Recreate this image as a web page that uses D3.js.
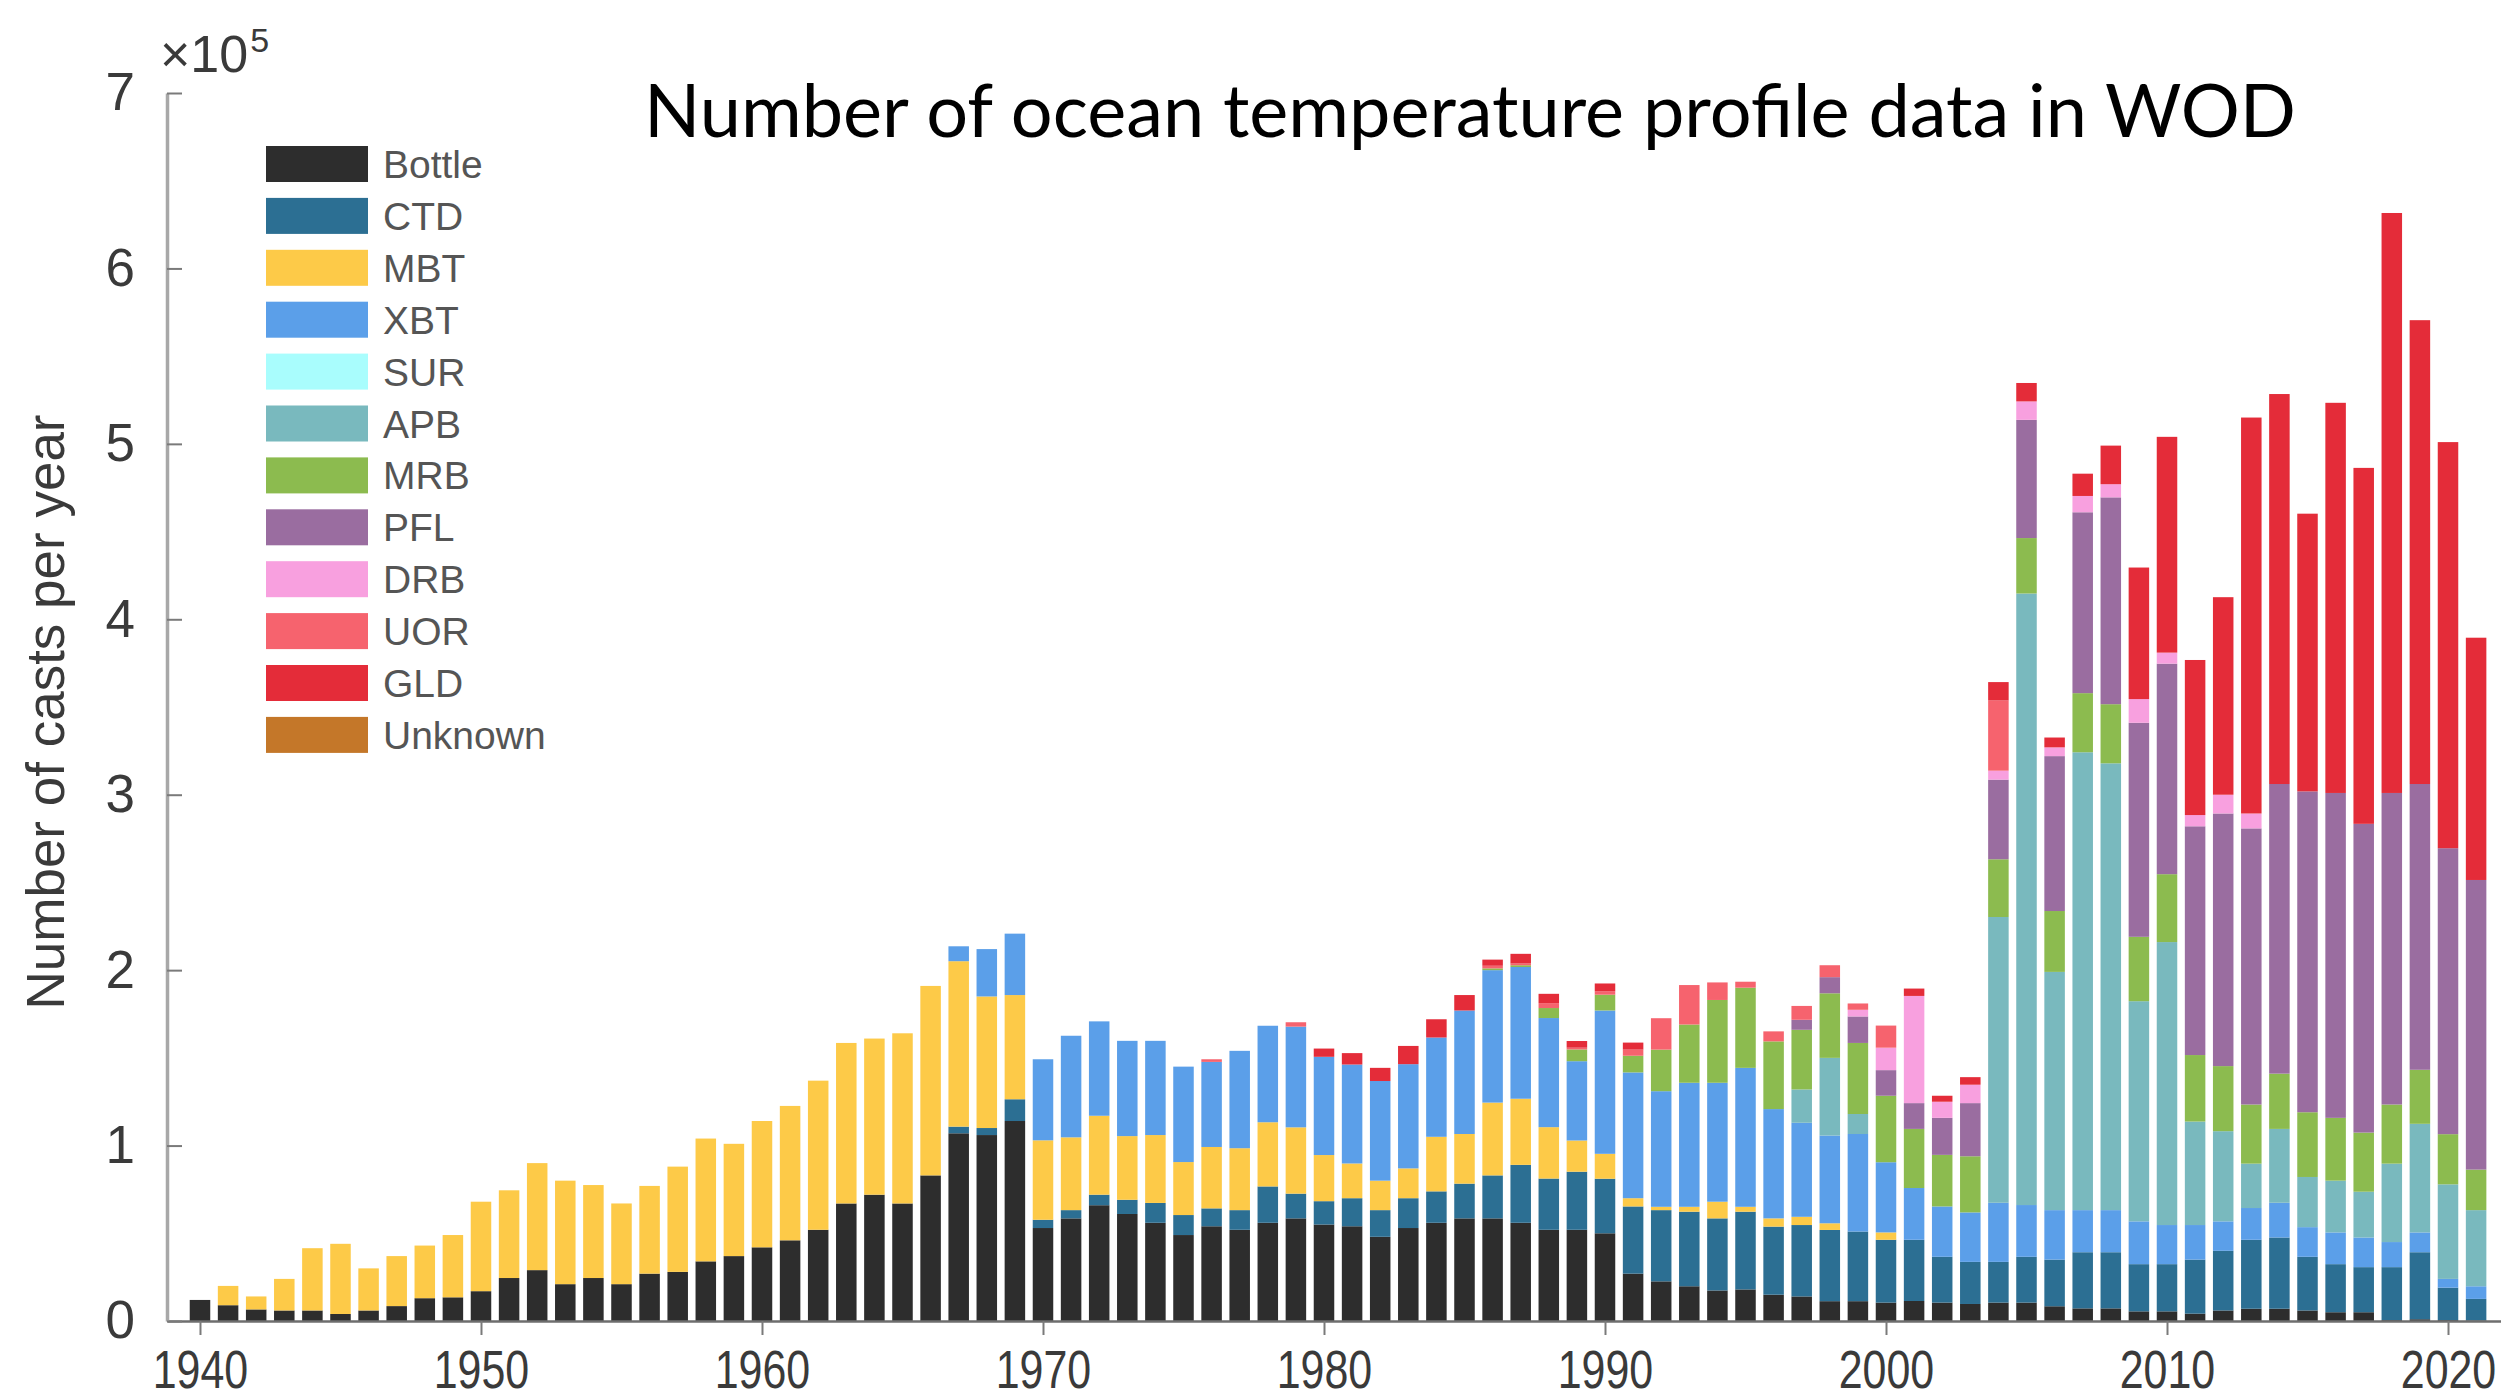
<!DOCTYPE html>
<html>
<head>
<meta charset="utf-8">
<script src="https://cdn.jsdelivr.net/npm/d3@7"></script>
<style>
  html, body { margin: 0; background: #fff; }
  svg { display: block; }
</style>
</head>
<body>
<svg id="chart" width="2501" height="1399"></svg>
<script>
// Years on the x axis, one stacked bar per year
const years = d3.range(1940, 2022);

// Casts per year by instrument type, in thousands (one row per decade)
const bottle = [
  12, 9, 6.6, 6, 6, 4, 6, 8.5, 13, 13.5,
  17, 24.5, 29, 21, 24.5, 21, 27, 28, 34, 37,
  42, 46, 52, 67, 72, 67, 83, 107, 106, 114,
  53, 58.5, 66, 61, 56, 49, 54, 52, 56, 58.5,
  55, 54, 48, 53, 56, 58.5, 58.5, 56, 52, 52,
  50, 27, 22.6, 19.8, 17.4, 18, 15, 14, 11.3, 11.3,
  10.5, 11.4, 10.5, 9.7, 10.5, 10.5, 8.4, 7.2, 7.2, 5.5,
  5.5, 4.2, 6, 7, 7, 6, 5, 5, 0.5, 1,
  0.5, 0.3
];
const ctd = [
  0, 0, 0, 0, 0, 0, 0, 0, 0, 0,
  0, 0, 0, 0, 0, 0, 0, 0, 0, 0,
  0, 0, 0, 0, 0, 0, 0, 3.8, 4, 12.4,
  4.7, 4.7, 6, 8.1, 11.3, 11.4, 10.2, 11.2, 20.7, 14.1,
  13.3, 16, 15.2, 17, 17.9, 19.8, 24.5, 33, 29.2, 33.1,
  31.1, 38.3, 40.6, 42.5, 41.1, 44.3, 38.8, 40.7, 40.6, 39.7,
  35.8, 34.9, 26.1, 24, 23.2, 26.1, 26.6, 32, 32, 26.9,
  26.9, 30.8, 34, 39.3, 40.6, 30.6, 27.4, 25.7, 30.2, 38.2,
  18.5, 12.3
];
const mbt = [
  0, 11, 7.4, 18, 35.5, 40, 24, 28.5, 30, 35.5,
  51, 50, 61, 59, 53, 46, 50, 60, 70, 64,
  72, 76.6, 85, 91.5, 89, 97, 108, 94.3, 75, 59.4,
  45.3, 41.5, 45, 36.3, 38.7, 30.2, 35, 35.3, 36.6, 37.8,
  26.3, 19.8, 16.8, 17, 31.1, 28.3, 41.5, 37.7, 29.3, 17.8,
  14.2, 4.7, 1.9, 2.8, 9.5, 2.8, 4.7, 4.7, 3.8, 0,
  4.2, 0, 0, 0, 0, 0, 0, 0, 0, 0,
  0, 0, 0, 0, 0, 0, 0, 0, 0, 0,
  0, 0
];
const xbt = [
  0, 0, 0, 0, 0, 0, 0, 0, 0, 0,
  0, 0, 0, 0, 0, 0, 0, 0, 0, 0,
  0, 0, 0, 0, 0, 0, 0, 8.5, 27, 35,
  46.2, 57.9, 53.8, 54.3, 53.7, 54.4, 48.5, 55.5, 55, 57.4,
  56, 56.4, 56.8, 59.4, 56.6, 70.4, 75.5, 75.1, 62.2, 45.2,
  81.7, 71.7, 65.9, 70.7, 67.8, 79.2, 62.3, 53.6, 50, 55.6,
  40, 29.5, 28.7, 28.2, 33.7, 29.5, 28.2, 24, 24, 24.4,
  22.3, 19.7, 16.8, 18.1, 19.8, 16.9, 18.1, 16.9, 14.3, 11.3,
  5, 7.2
];
const sur = [
  0, 0, 0, 0, 0, 0, 0, 0, 0, 0,
  0, 0, 0, 0, 0, 0, 0, 0, 0, 0,
  0, 0, 0, 0, 0, 0, 0, 0, 0, 0,
  0, 0, 0, 0, 0, 0, 0, 0, 0, 0,
  0, 0, 0, 0, 0, 0, 0, 0, 0, 0,
  0, 0, 0, 0, 0, 0, 0, 0, 0, 0,
  0, 0, 0, 0, 0, 0, 0, 0, 0, 0,
  0, 0, 0, 0, 0, 0, 0, 0, 0, 0,
  0, 0
];
const apb = [
  0, 0, 0, 0, 0, 0, 0, 0, 0, 0,
  0, 0, 0, 0, 0, 0, 0, 0, 0, 0,
  0, 0, 0, 0, 0, 0, 0, 0, 0, 0,
  0, 0, 0, 0, 0, 0, 0, 0, 0, 0,
  0, 0, 0, 0, 0, 0, 0, 0, 0, 0,
  0, 0, 0, 0, 0, 0, 0, 19, 44.3, 11.4,
  0, 0, 0, 0, 162.9, 348.6, 135.8, 261, 254.7, 125.5,
  161.3, 59, 51.4, 25.3, 42.1, 28.6, 29.5, 26.1, 44.7, 61.9,
  53.9, 43.4
];
const mrb = [
  0, 0, 0, 0, 0, 0, 0, 0, 0, 0,
  0, 0, 0, 0, 0, 0, 0, 0, 0, 0,
  0, 0, 0, 0, 0, 0, 0, 0, 0, 0,
  0, 0, 0, 0, 0, 0, 0, 0, 0, 0,
  0, 0, 0, 0, 0, 0, 1, 1, 5.7, 6.7,
  9, 9.5, 23.7, 33.2, 47.2, 45.7, 38.6, 34, 36.8, 40.5,
  37.9, 33.7, 29.4, 32, 32.9, 31.6, 34.7, 33.7, 33.7, 36.7,
  38.7, 37.9, 37.1, 33.7, 31.5, 36.9, 35.8, 33.7, 33.7, 30.8,
  28.6, 23.1
];
const pfl = [
  0, 0, 0, 0, 0, 0, 0, 0, 0, 0,
  0, 0, 0, 0, 0, 0, 0, 0, 0, 0,
  0, 0, 0, 0, 0, 0, 0, 0, 0, 0,
  0, 0, 0, 0, 0, 0, 0, 0, 0, 0,
  0, 0, 0, 0, 0, 0, 0, 0, 0, 0,
  0, 0, 0, 0, 0, 0, 0, 5.7, 9.2, 15.1,
  14.6, 14.7, 21.1, 30.3, 45.4, 67.4, 88.3, 103.1, 117.9, 122,
  120, 130.4, 144, 157.4, 165.1, 182.9, 185.2, 176, 177.6, 162.9,
  163, 165.1
];
const drb = [
  0, 0, 0, 0, 0, 0, 0, 0, 0, 0,
  0, 0, 0, 0, 0, 0, 0, 0, 0, 0,
  0, 0, 0, 0, 0, 0, 0, 0, 0, 0,
  0, 0, 0, 0, 0, 0, 0, 0, 0, 0,
  0, 0, 0, 0, 0, 0, 0, 0, 0, 0,
  0, 0, 0, 0, 0, 0, 0, 0, 0, 3.8,
  12.8, 61.1, 9.2, 10.5, 5.1, 10.5, 5, 9.3, 7.5, 13.5,
  6.3, 6.4, 10.7, 8.5, 0, 0, 0, 0, 0, 0,
  0, 0
];
const uor = [
  0, 0, 0, 0, 0, 0, 0, 0, 0, 0,
  0, 0, 0, 0, 0, 0, 0, 0, 0, 0,
  0, 0, 0, 0, 0, 0, 0, 0, 0, 0,
  0, 0, 0, 0, 0, 0, 1.5, 0, 0, 2.5,
  0, 0, 0, 0, 0, 0, 1.5, 1, 2.8, 1,
  2, 3.5, 17.9, 22.5, 10, 3.4, 5.7, 7.9, 6.8, 3.6,
  12.6, 0, 0, 0, 40, 0, 0, 0, 0, 0,
  0, 0, 0, 0, 0, 0, 0, 0, 0, 0,
  0, 0
];
const gld = [
  0, 0, 0, 0, 0, 0, 0, 0, 0, 0,
  0, 0, 0, 0, 0, 0, 0, 0, 0, 0,
  0, 0, 0, 0, 0, 0, 0, 0, 0, 0,
  0, 0, 0, 0, 0, 0, 0, 0, 0, 0,
  4.7, 6.5, 7.5, 10.4, 10.4, 8.8, 3.5, 5.5, 5.3, 3.8,
  4.4, 4, 0, 0, 0, 0, 0, 0, 0, 0,
  0, 4.2, 3.4, 4.3, 10.5, 10.5, 5.6, 12.7, 22, 75,
  123, 88.4, 112.6, 225.7, 222.3, 158.3, 222.4, 202.9, 330.6, 264.4,
  231.5, 138.1
];
const unknown = [
  0, 0, 0, 0, 0, 0, 0, 0, 0, 0,
  0, 0, 0, 0, 0, 0, 0, 0, 0, 0,
  0, 0, 0, 0, 0, 0, 0, 0, 0, 0,
  0, 0, 0, 0, 0, 0, 0, 0, 0, 0,
  0, 0, 0, 0, 0, 0, 0, 0, 0, 0,
  0, 0, 0, 0, 0, 0, 0, 0, 0, 0,
  0, 0, 0, 0, 0, 0, 0, 0, 0, 0,
  0, 0, 0, 0, 0, 0, 0, 0, 0, 0,
  0, 0
];

// Series names (stack order, bottom to top) and their colours
const seriesNames = ["Bottle", "CTD", "MBT", "XBT", "SUR", "APB", "MRB", "PFL", "DRB", "UOR", "GLD", "Unknown"];
const seriesValues = [bottle, ctd, mbt, xbt, sur, apb, mrb, pfl, drb, uor, gld, unknown];
const seriesColors = ["#2d2d2d", "#2c6f93", "#fdca48", "#5b9fe9", "#a9fdfd", "#79b9be",
                      "#8cbb4f", "#9a6da0", "#f8a0df", "#f6636e", "#e42c39", "#c47729"];

// Tick positions and labels
const xTickYears = [1940, 1950, 1960, 1970, 1980, 1990, 2000, 2010, 2020];
const yTickValues = [0, 100000, 200000, 300000, 400000, 500000, 600000, 700000];
const yTickLabels = ["0", "1", "2", "3", "4", "5", "6", "7"];

const W = 2501, H = 1399;
const svg = d3.select("#chart");
svg.append("rect").attr("width", W).attr("height", H).attr("fill", "#fff");

// Build the table the stack layout needs (counts in casts)
const table = years.map((yr, i) => {
  const row = { year: yr };
  seriesNames.forEach((name, k) => { row[name] = seriesValues[k][i] * 1000; });
  return row;
});

const x = d3.scaleLinear().domain([1938.826, 2021.886]).range([167, 2501]);
const y = d3.scaleLinear().domain([0, 700000]).range([1321, 93]);
const barW = 0.73 * (x(1941) - x(1940));

const stacked = d3.stack().keys(seriesNames)(table);

// Stacked bars
svg.append("g")
  .selectAll("g")
  .data(stacked)
  .join("g")
  .attr("fill", (d, i) => seriesColors[i])
  .selectAll("rect")
  .data(d => d.filter(s => s[1] - s[0] > 0))
  .join("rect")
  .attr("x", d => x(d.data.year) - barW / 2)
  .attr("width", barW)
  .attr("y", d => y(d[1]))
  .attr("height", d => y(d[0]) - y(d[1]));

const axisFont = "'Liberation Sans', Arial, Helvetica, sans-serif";

// X axis: ticks pointing down, horizontally condensed decade labels
const gx = svg.append("g")
  .attr("transform", `translate(0,${y(0)})`)
  .call(d3.axisBottom(x)
    .tickValues(xTickYears)
    .tickFormat(d3.format("d"))
    .tickSizeInner(14)
    .tickSizeOuter(0));
gx.select(".domain").attr("stroke", "#6e6e6e").attr("stroke-width", 2.5);
gx.selectAll(".tick line").attr("stroke", "#7a7a7a").attr("stroke-width", 2);
gx.selectAll(".tick text")
  .attr("y", 67).attr("dy", null)
  .attr("transform", "scale(0.81,1)")
  .attr("font-size", 53).attr("font-family", axisFont).attr("fill", "#3a3a3a");

// Y axis: ticks pointing into the plot
const gy = svg.append("g")
  .attr("transform", `translate(${x.range()[0]},0)`)
  .call(d3.axisLeft(y)
    .tickValues(yTickValues)
    .tickFormat((d, i) => yTickLabels[i])
    .tickSizeInner(-15)
    .tickSizeOuter(0)
    .tickPadding(32));
gy.select(".domain").attr("stroke", "#a8a8a8").attr("stroke-width", 3.5);
gy.selectAll(".tick line").attr("stroke", "#7a7a7a").attr("stroke-width", 2);
gy.selectAll(".tick text")
  .attr("font-size", 53).attr("font-family", axisFont).attr("fill", "#3a3a3a");

// Exponent marker above the y axis
const expo = svg.append("text")
  .attr("x", 160).attr("y", 72)
  .attr("font-family", axisFont).attr("font-size", 52).attr("fill", "#3a3a3a");
expo.append("tspan").text("×10");
expo.append("tspan").attr("dx", 2).attr("dy", -20).attr("font-size", 34).text("5");

// Y axis title
svg.append("text")
  .attr("transform", "translate(64,712) rotate(-90)")
  .attr("text-anchor", "middle")
  .attr("font-family", axisFont).attr("font-size", 53).attr("fill", "#3a3a3a")
  .text("Number of casts per year");

// Chart title, sized to span its line
const title = svg.append("text")
  .attr("x", 644).attr("y", 137)
  .attr("font-family", "Lato, 'Open Sans', 'Noto Sans', sans-serif")
  .attr("font-size", 72).attr("fill", "#000")
  .text("Number of ocean temperature profile data in WOD");
const tw = title.node().getComputedTextLength();
title.attr("font-size", 72 * 1652 / tw);

// Legend
const legend = svg.append("g");
const rowStep = 51.9;
seriesNames.forEach((name, i) => {
  const cy = 164 + i * rowStep;
  legend.append("rect")
    .attr("x", 266).attr("y", cy - 18)
    .attr("width", 102).attr("height", 36)
    .attr("fill", seriesColors[i]);
  legend.append("text")
    .attr("x", 383).attr("y", cy).attr("dy", "0.36em")
    .attr("font-family", axisFont).attr("font-size", 39).attr("fill", "#555")
    .text(name);
});
</script>
</body>
</html>
